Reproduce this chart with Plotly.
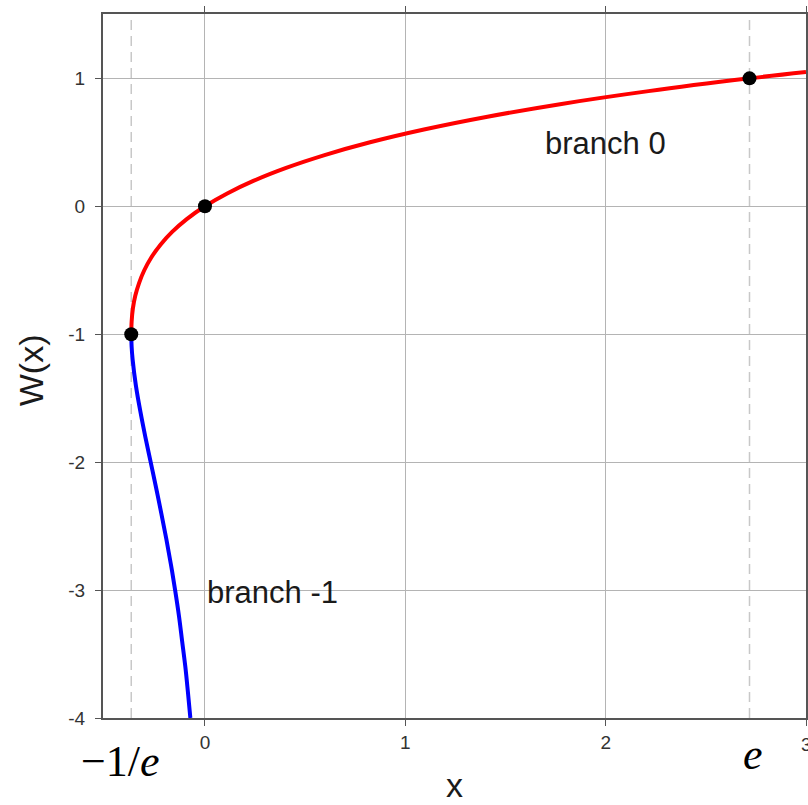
import plotly.graph_objects as go

# Principal branch W0(x), sampled along the curve
branch0_x = [-0.368, -0.366, -0.360, -0.348, -0.329, -0.303, -0.268, -0.222, -0.164,
             -0.091, 0.000, 0.111, 0.244, 0.405, 0.597, 0.824, 1.093, 1.410, 1.780,
             2.214, 2.718, 3.000]
branch0_w = [-1.0, -0.9, -0.8, -0.7, -0.6, -0.5, -0.4, -0.3, -0.2,
             -0.1, 0.0, 0.1, 0.2, 0.3, 0.4, 0.5, 0.6, 0.7, 0.8,
             0.9, 1.0, 1.05]

# Lower branch W-1(x)
branch_m1_x = [-0.368, -0.366, -0.361, -0.345, -0.323, -0.298, -0.271, -0.244, -0.218,
               -0.193, -0.170, -0.149, -0.130, -0.114, -0.098, -0.085, -0.073]
branch_m1_w = [-1.0, -1.1, -1.2, -1.4, -1.6, -1.8, -2.0, -2.2, -2.4,
               -2.6, -2.8, -3.0, -3.2, -3.4, -3.6, -3.8, -4.0]

# Highlighted points: (-1/e, -1), (0, 0), (e, 1)
point_x = [-0.368, 0.0, 2.718]
point_w = [-1.0, 0.0, 1.0]

# Vertical guides at x = -1/e and x = e
guide_x = [-0.368, 2.718]

x_ticks = [0, 1, 2]
x_tick_labels = ["0", "1", "2"]
x_edge_tick = 3           # last tick sits on the right border; its label is drawn separately
x_edge_label = "3"
y_ticks = [-4, -3, -2, -1, 0, 1]
y_tick_labels = ["-4", "-3", "-2", "-1", "0", "1"]

SANS = "Liberation Sans, Arial, Helvetica, sans-serif"
SERIF = "Liberation Serif, Times New Roman, serif"
FRAME = "#555555"
GRID = "#b4b4b4"
TICK_FONT = dict(family=SANS, size=19, color="#333333")

fig = go.Figure()

for gx in guide_x:
    fig.add_shape(type="line", xref="x", yref="paper", x0=gx, x1=gx, y0=0, y1=1,
                  line=dict(color="#c8c8c8", width=1.5, dash="10px,6px"), layer="below")

fig.add_trace(go.Scatter(x=branch_m1_x, y=branch_m1_w, mode="lines",
                         line=dict(color="#0000ff", width=4, shape="spline"),
                         hoverinfo="skip", showlegend=False))
fig.add_trace(go.Scatter(x=branch0_x, y=branch0_w, mode="lines",
                         line=dict(color="#ff0000", width=4, shape="spline"),
                         hoverinfo="skip", showlegend=False))
fig.add_trace(go.Scatter(x=point_x, y=point_w, mode="markers",
                         marker=dict(color="black", size=14),
                         hoverinfo="skip", showlegend=False))

annotations = [
    dict(text="branch 0", x=2.0, y=0.49, xref="x", yref="y", showarrow=False,
         xanchor="center", yanchor="middle", font=dict(family=SANS, size=31, color="#1a1a1a")),
    dict(text="branch -1", x=0.0, y=-3.02, xref="x", yref="y", showarrow=False,
         xanchor="left", yanchor="middle", font=dict(family=SANS, size=31, color="#1a1a1a")),
    dict(text="x", x=0.5, y=0, xref="paper", yref="paper", showarrow=False,
         xanchor="center", yanchor="middle", yshift=-67,
         font=dict(family=SANS, size=34, color="#1a1a1a")),
    dict(text="W(x)", x=0, y=0.494, xref="paper", yref="paper", showarrow=False,
         textangle=-90, xanchor="center", yanchor="middle", xshift=-72,
         font=dict(family=SANS, size=34, color="#1a1a1a")),
    dict(text="\u22121/<i>e</i>", x=-0.42, y=0, xref="x", yref="paper", showarrow=False,
         xanchor="center", yanchor="middle", yshift=-43,
         font=dict(family=SERIF, size=44, color="black")),
    dict(text="<i>e</i>", x=2.735, y=0, xref="x", yref="paper", showarrow=False,
         xanchor="center", yanchor="middle", yshift=-36,
         font=dict(family=SERIF, size=44, color="black")),
    dict(text=x_edge_label, x=x_edge_tick, y=0, xref="x", yref="paper", showarrow=False,
         xanchor="center", yanchor="middle", yshift=-26, font=TICK_FONT),
]

axis_common = dict(showline=True, linecolor=FRAME, linewidth=2, mirror="allticks",
                   ticks="outside", ticklen=6, tickcolor=FRAME, tickwidth=1,
                   showgrid=True, gridcolor=GRID, gridwidth=1, zeroline=False,
                   automargin=False, tickfont=TICK_FONT)

fig.update_layout(
    width=808, height=805,
    margin=dict(l=103, r=2, t=14, b=87),
    paper_bgcolor="white", plot_bgcolor="white",
    xaxis=dict(range=[-0.509, 3.0], tickmode="array", tickvals=x_ticks + [x_edge_tick],
               ticktext=x_tick_labels + [""], **axis_common),
    yaxis=dict(range=[-4.0, 1.503], tickmode="array", tickvals=y_ticks,
               ticktext=y_tick_labels, ticklabelstandoff=6, **axis_common),
    annotations=annotations,
)

fig.write_html("out.html")
